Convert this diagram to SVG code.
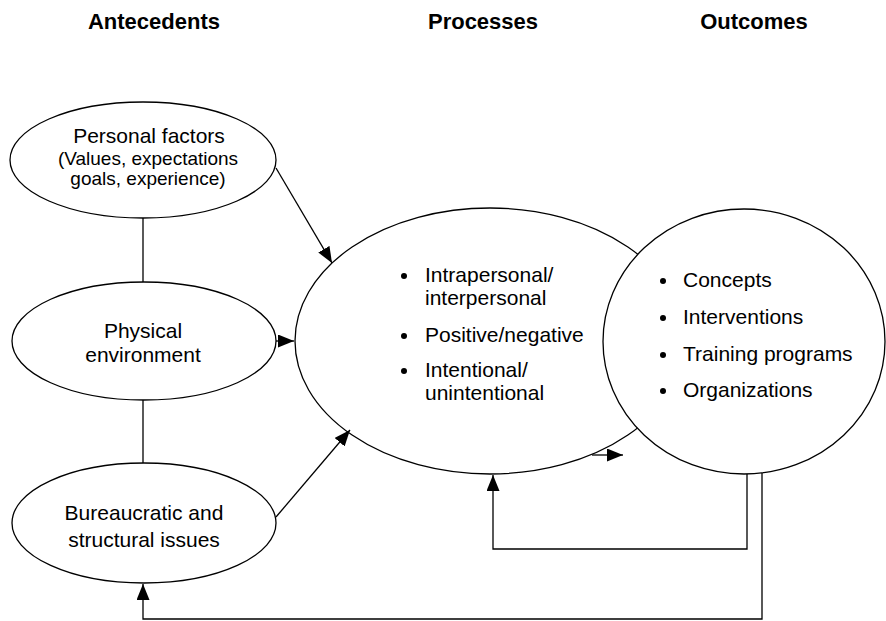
<svg xmlns="http://www.w3.org/2000/svg" width="886" height="621" viewBox="0 0 886 621">
<style>
  .node { fill: #ffffff; stroke: #000000; stroke-width: 1.3; }
  .lbl { font-family: "Liberation Sans", Arial, sans-serif; font-size: 21px; fill: #000000; }
  .mid { text-anchor: middle; }
  .sm { font-size: 19px; }
  .hdr { font-family: "Liberation Sans", Arial, sans-serif; font-size: 22px; font-weight: bold; fill: #000000; text-anchor: middle; }
  .conn { fill: none; stroke: #000000; stroke-width: 1.3; }
  .arr { marker-end: url(#ah); }
  .dot { fill: #000000; }
</style>
<defs>
  <marker id="ah" markerUnits="userSpaceOnUse" markerWidth="17" markerHeight="15" refX="16" refY="6.5" orient="auto">
    <path d="M0,0 L16,6.5 L0,13 Z" fill="#000000"/>
  </marker>
</defs>
<rect x="0" y="0" width="886" height="621" fill="#ffffff"/>

<g id="headers">
  <text class="hdr" x="154" y="28.5">Antecedents</text>
  <text class="hdr" x="483" y="28.5">Processes</text>
  <text class="hdr" x="754" y="28.5">Outcomes</text>
</g>

<g id="personal-factors">
  <ellipse class="node" cx="143" cy="160" rx="133" ry="58"/>
  <text class="lbl mid" x="149" y="143">Personal factors</text>
  <text class="lbl mid sm" x="148" y="165">(Values, expectations</text>
  <text class="lbl mid sm" x="148" y="185">goals, experience)</text>
</g>

<g id="physical-environment">
  <ellipse class="node" cx="144" cy="341" rx="132" ry="59"/>
  <text class="lbl mid" x="143" y="338">Physical</text>
  <text class="lbl mid" x="143" y="362">environment</text>
</g>

<g id="bureaucratic-issues">
  <ellipse class="node" cx="144" cy="523" rx="132" ry="60"/>
  <text class="lbl mid" x="144" y="520">Bureaucratic and</text>
  <text class="lbl mid" x="144" y="547">structural issues</text>
</g>

<g id="processes">
  <ellipse class="node" cx="490" cy="341" rx="195" ry="133"/>
  <circle class="dot" cx="404" cy="276" r="3"/>
  <text class="lbl" x="425" y="282">Intrapersonal/</text>
  <text class="lbl" x="425" y="305">interpersonal</text>
  <circle class="dot" cx="404" cy="336" r="3"/>
  <text class="lbl" x="425" y="342">Positive/negative</text>
  <circle class="dot" cx="404" cy="371" r="3"/>
  <text class="lbl" x="425" y="377">Intentional/</text>
  <text class="lbl" x="425" y="400">unintentional</text>
</g>

<g id="outcomes">
  <ellipse class="node" cx="744" cy="341.5" rx="141" ry="132.5"/>
  <circle class="dot" cx="663" cy="281" r="3"/>
  <text class="lbl" x="683" y="287">Concepts</text>
  <circle class="dot" cx="663" cy="318" r="3"/>
  <text class="lbl" x="683" y="324">Interventions</text>
  <circle class="dot" cx="663" cy="355" r="3"/>
  <text class="lbl" x="683" y="361">Training programs</text>
  <circle class="dot" cx="663" cy="391" r="3"/>
  <text class="lbl" x="683" y="397">Organizations</text>
</g>

<g id="connectors">
  <line class="conn" x1="143" y1="218" x2="143" y2="282"/>
  <line class="conn" x1="143" y1="400" x2="143" y2="463"/>
  <line class="conn arr" x1="276" y1="168" x2="332" y2="263"/>
  <line class="conn arr" x1="276" y1="341" x2="294" y2="341"/>
  <line class="conn arr" x1="276" y1="517" x2="350" y2="430"/>
  <line class="conn arr" x1="592" y1="455" x2="623" y2="455"/>
  <polyline class="conn arr" points="747,474 747,549 493,549 493,475"/>
  <polyline class="conn arr" points="762,473 762,619 143,619 143,584"/>
</g>
</svg>
